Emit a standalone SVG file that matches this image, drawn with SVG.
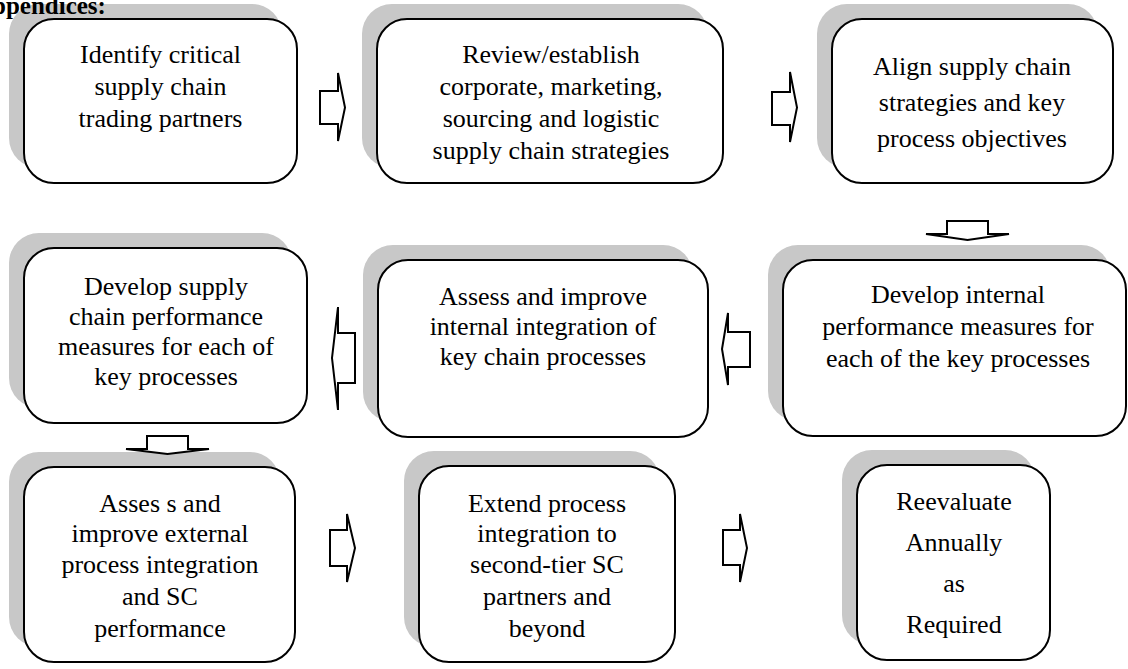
<svg xmlns="http://www.w3.org/2000/svg" width="1128" height="669" viewBox="0 0 1128 669">
<defs>
<style>
.sh{fill:#c8c8c8;stroke:none}
.bx{fill:#fff;stroke:#000;stroke-width:2}
.t{font-family:"Liberation Serif","Times New Roman",serif;font-size:26px;fill:#000;text-anchor:middle}
.ar{fill:#fff;stroke:#000;stroke-width:2;stroke-linejoin:miter}
.title{font-family:"Liberation Serif","Times New Roman",serif;font-size:25px;font-weight:bold;fill:#000}
</style>
</defs>
<rect width="1128" height="669" fill="#fff"/>

<g id="n1">
<rect class="sh" x="9" y="4" width="273" height="164" rx="30"/>
<rect class="bx" x="24" y="19" width="273" height="164" rx="30"/>
<text class="t" x="160.5" y="63">Identify critical</text>
<text class="t" x="160.5" y="95">supply chain</text>
<text class="t" x="160.5" y="127">trading partners</text>
</g>
<g id="n2">
<rect class="sh" x="362" y="4" width="346" height="164" rx="30"/>
<rect class="bx" x="377" y="19" width="346" height="164" rx="30"/>
<text class="t" x="551" y="63">Review/establish</text>
<text class="t" x="551" y="95">corporate, marketing,</text>
<text class="t" x="551" y="127">sourcing and logistic</text>
<text class="t" x="551" y="159">supply chain strategies</text>
</g>
<g id="n3">
<rect class="sh" x="817" y="4" width="281" height="164" rx="30"/>
<rect class="bx" x="832" y="19" width="281" height="164" rx="30"/>
<text class="t" x="972" y="75">Align supply chain</text>
<text class="t" x="972" y="111">strategies and key</text>
<text class="t" x="972" y="147">process objectives</text>
</g>
<g id="n4">
<rect class="sh" x="9" y="233" width="283" height="175" rx="30"/>
<rect class="bx" x="24" y="248" width="283" height="175" rx="30"/>
<text class="t" x="166" y="295">Develop supply</text>
<text class="t" x="166" y="325">chain performance</text>
<text class="t" x="166" y="355">measures for each of</text>
<text class="t" x="166" y="385">key processes</text>
</g>
<g id="n5">
<rect class="sh" x="363" y="245" width="330" height="177" rx="30"/>
<rect class="bx" x="378" y="260" width="330" height="177" rx="30"/>
<text class="t" x="543" y="305">Assess and improve</text>
<text class="t" x="543" y="335">internal integration of</text>
<text class="t" x="543" y="365">key chain processes</text>
</g>
<g id="n6">
<rect class="sh" x="768" y="245" width="343" height="176" rx="30"/>
<rect class="bx" x="783" y="260" width="343" height="176" rx="30"/>
<text class="t" x="958" y="303">Develop internal</text>
<text class="t" x="958" y="335">performance measures for</text>
<text class="t" x="958" y="367">each of the key processes</text>
</g>
<g id="n7">
<rect class="sh" x="9" y="452" width="271" height="195" rx="30"/>
<rect class="bx" x="24" y="467" width="271" height="195" rx="30"/>
<text class="t" x="160" y="512">Asses s and</text>
<text class="t" x="160" y="542">improve external</text>
<text class="t" x="160" y="573">process integration</text>
<text class="t" x="160" y="605">and SC</text>
<text class="t" x="160" y="637">performance</text>
</g>
<g id="n8">
<rect class="sh" x="404" y="451" width="256" height="196" rx="30"/>
<rect class="bx" x="419" y="466" width="256" height="196" rx="30"/>
<text class="t" x="547" y="512">Extend process</text>
<text class="t" x="547" y="542">integration to</text>
<text class="t" x="547" y="573">second-tier SC</text>
<text class="t" x="547" y="605">partners and</text>
<text class="t" x="547" y="637">beyond</text>
</g>
<g id="n9">
<rect class="sh" x="842" y="450" width="193" height="195" rx="30"/>
<rect class="bx" x="857" y="465" width="193" height="195" rx="30"/>
<text class="t" x="954" y="510">Reevaluate</text>
<text class="t" x="954" y="551">Annually</text>
<text class="t" x="954" y="592">as</text>
<text class="t" x="954" y="633">Required</text>
</g>

<g id="connectors">
<polygon class="ar" points="320,91 338,91 338,73 345,107.5 338,141 338,124 320,124"/>
<polygon class="ar" points="772,92 790,92 790,72 797,107.5 790,142 790,125 772,125"/>
<polygon class="ar" points="947,221 988,221 988,234 1009,234 967.5,240 926,234 947,234"/>
<polygon class="ar" points="750,332 728,332 728,313 722,349 728,385 728,367 750,367"/>
<polygon class="ar" points="355,333 338,333 338,307 332,358 338,410 338,383 355,383"/>
<polygon class="ar" points="147,436 188,436 188,449 209,449 167.5,454 126,449 147,449"/>
<polygon class="ar" points="330,530 347,530 347,514 355,548 347,582 347,566 330,566"/>
<polygon class="ar" points="723,530 740,530 740,514 747,548 740,582 740,565 723,565"/>
</g>

<text class="title" x="-8" y="14">ppendices:</text>
</svg>
